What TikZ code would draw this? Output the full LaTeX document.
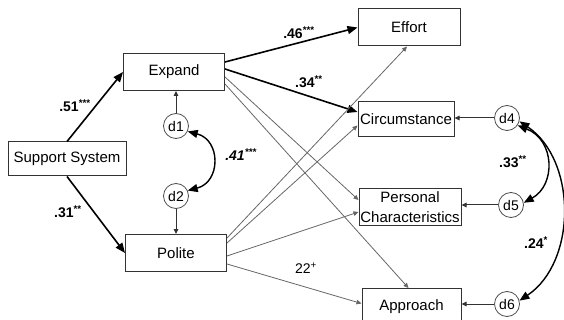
\documentclass[tikz,border=0pt]{standalone}
\usepackage{fontspec}
\setmainfont{Liberation Sans}
\usetikzlibrary{arrows.meta}

\begin{document}
\begin{tikzpicture} [x=1pt,y=-1pt,
box/.style={draw=black!80, line width=1pt, minimum width=101pt, minimum height=37pt, inner sep=0pt, align=center, font=\fontsize{15}{20}\selectfont},
dist/.style={draw=black!70, circle, line width=0.8pt, minimum size=25pt, inner sep=0pt, font=\fontsize{14}{16}\selectfont},
main/.style={line width=1.6pt, -{Triangle[length=10pt,width=8pt]}},
side/.style={draw=black!60, line width=0.8pt, -{Triangle[length=5pt,width=4.5pt]}},
err/.style={draw=black!80, line width=1pt, -{Triangle[length=5pt,width=4.5pt]}},
cov/.style={line width=1.4pt, {Triangle[length=10pt,width=8pt]}-{Triangle[length=10pt,width=8pt]}},
coef/.style={font=\bfseries\fontsize{14}{16}\selectfont}]
\useasboundingbox (0,0) rectangle (564,320);

\node [box, minimum width=118pt, minimum height=34pt] (support) at (67,159) {Support System};
\node [box] (expand) at (174,72) {Expand};
\node [box] (polite) at (176,253) {Polite};
\node [box, minimum width=102pt] (effort) at (409,27.5) {Effort};
\node [box, minimum width=96pt, minimum height=35pt] (circ) at (406,119.5) {Circumstance};
\node [box, minimum width=102pt, minimum height=36pt] (pers) at (410,207) {Personal\\Characteristics};
\node [box, minimum width=99pt, minimum height=36pt, anchor=north] (appr) at (411.5,288) {Approach};

\node [dist] (d1) at (176,126) {d1};
\node [dist] (d2) at (176,196) {d2};
\node [dist] (d4) at (507,118) {d4};
\node [dist] (d5) at (511,205) {d5};
\node [dist] (d6) at (507,304) {d6};

\draw [main] (support.north) -- (expand.west);
\draw [main] (support.south) -- (polite.west);
\draw [main] ([yshift=10pt]expand.east) -- (effort.west);
\draw [main] ([yshift=3pt]expand.east) -- ([yshift=7.5pt]circ.west);

\draw [side] ([yshift=-5pt]expand.east) -- ([yshift=7pt]pers.west);
\draw [side] ([yshift=-12pt]expand.east) -- ([xshift=-3pt]appr.north);
\draw [side] ([yshift=15pt]polite.east) -- ([xshift=-2pt]effort.south);
\draw [side] ([yshift=10pt]polite.east) -- ([yshift=-6pt]circ.west);
\draw [side] ([yshift=-3pt]polite.east) -- ([yshift=-5pt]pers.west);
\draw [side] ([yshift=-11pt]polite.east) -- ([yshift=3pt]appr.west);

\draw [err] (d1.north) -- (d1.north |- expand.south);
\draw [err] (d2.south) -- (d2.south |- polite.north);
\draw [err] (d4.west) -- (d4.west -| circ.east);
\draw [err] (d5.west) -- (d5.west -| pers.east);
\draw [err] (d6.west) -- (d6.west -| appr.east);

\draw [cov] (d1.-25) .. controls (221,140) and (221,182) .. (d2.25);
\draw [cov] (d4.-35) .. controls (555,140) and (556,185) .. (d5.10);
\draw [cov] (d4.-15) .. controls (577,160) and (577,262) .. (d6.15);

\node [coef] (c51) at (75,106) {.51\textsuperscript{***}};
\node [coef] (c31) at (68,212) {.31\textsuperscript{**}};
\node [coef] (c46) at (299,33) {.46\textsuperscript{***}};
\node [coef] (c34) at (309,82) {.34\textsuperscript{**}};
\node [coef, font=\bfseries\itshape\fontsize{14}{16}\selectfont] (c41) at (241,155) {.41\textsuperscript{***}};
\node [font=\fontsize{14}{16}\selectfont] (c22) at (306,268) {22\textsuperscript{+}};
\node [coef] (c33) at (513,162) {.33\textsuperscript{**}};
\node [coef] (c24) at (536,243) {.24\textsuperscript{*}};
\end{tikzpicture}
\end{document}
